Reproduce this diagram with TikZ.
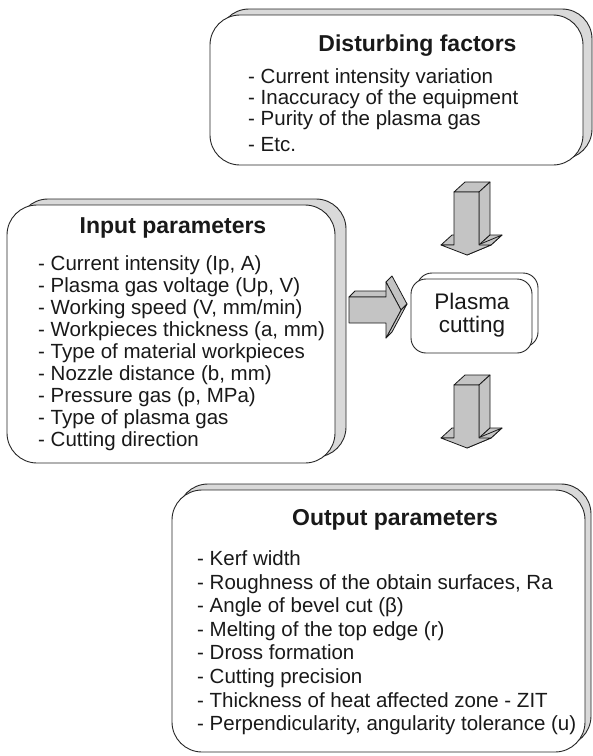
\documentclass[tikz,border=0pt]{standalone}
\usepackage{fontspec}
\setmainfont{Liberation Sans}
\usetikzlibrary{shadows}
\begin{document}
\begin{tikzpicture}[x=1pt,y=-1pt,
  edge/.style={draw=black!85, line width=0.9pt},
  bigbox/.style={edge, fill=white, rounded corners=30pt, inner sep=0pt,
    copy shadow={shadow xshift=#1, shadow yshift=6pt, fill=black!15, draw=black!85, line width=0.9pt}},
  smallbox/.style={edge, fill=white, rounded corners=15pt, inner sep=0pt,
    copy shadow={shadow xshift=6pt, shadow yshift=6pt, fill=white, draw=black!85, line width=0.9pt}},
  head/.style={font=\fontsize{23}{26}\selectfont\bfseries, inner sep=0pt, anchor=base, text=black!90},
  item/.style={font=\fontsize{20.5}{24}\selectfont, inner sep=0pt, anchor=base west, text=black!90},
  ptext/.style={font=\fontsize{22.5}{24}\selectfont, inner sep=0pt, anchor=base, text=black!90},
  arrowface/.style={fill=black!23, draw=black!90, line width=0.8pt, line join=round},
  darrow/.pic={
    \filldraw[arrowface] (0,0) -- (25,0) -- (36,-10) -- (11,-10) -- cycle;
    \filldraw[arrowface] (25,0) -- (36,-10) -- (36,43) -- (25,53) -- cycle;
    \filldraw[arrowface] (-13,53) -- (0,53) -- (11,43) -- (-2,43) -- cycle;
    \filldraw[arrowface] (25,53) -- (37,53) -- (48,43) -- (36,43) -- cycle;
    \filldraw[arrowface] (37,53) -- (48,43) -- (24,53) -- (13,63) -- cycle;
    \filldraw[arrowface] (0,0) -- (25,0) -- (25,53) -- (37,53) -- (13,63) -- (-13,53) -- (0,53) -- cycle;
  },
  rarrow/.pic={
    \filldraw[arrowface] (0,0) -- (6,-6) -- (43,-6) -- (37,0) -- cycle;
    \filldraw[arrowface] (37,-15) -- (43,-21) -- (58,7) -- (52,13) -- cycle;
    \filldraw[arrowface] (52,13) -- (58,7) -- (43,35) -- (37,41) -- cycle;
    \filldraw[arrowface] (0,0) -- (37,0) -- (37,-15) -- (52,13) -- (37,41) -- (37,26) -- (0,26) -- cycle;
  }
]
\useasboundingbox[fill=white] (0,0) rectangle (593,756);

% boxes
\node[bigbox=9pt, minimum width=373pt, minimum height=150pt] (dist) at (396.5,90) {};
\node[bigbox=11pt, minimum width=328pt, minimum height=258pt] (inp) at (171,334) {};
\node[smallbox, minimum width=121pt, minimum height=74pt] (plasma) at (471.5,316) {};
\node[bigbox=6pt, minimum width=413pt, minimum height=262pt] (out) at (378.5,621) {};

% disturbing factors
\node[head] (dh) at (417.5,51) {Disturbing factors};
\node[item] (d1) at (248,83.5) {- Current intensity variation};
\node[item] (d2) at (248,104.5) {- Inaccuracy of the equipment};
\node[item] (d3) at (248,125.5) {- Purity of the plasma gas};
\node[item] (d4) at (248,151.5) {- Etc.};

% input parameters
\node[head] (ih) at (173,233) {Input parameters};
\node[item] (i1) at (38,270.5) {- Current intensity (Ip, A)};
\node[item] (i2) at (38,292.5) {- Plasma gas voltage (Up, V)};
\node[item] (i3) at (38,314.5) {- Working speed (V, mm/min)};
\node[item] (i4) at (38,336.5) {- Workpieces thickness (a, mm)};
\node[item] (i5) at (38,358.5) {- Type of material workpieces};
\node[item] (i6) at (38,380.5) {- Nozzle distance (b, mm)};
\node[item] (i7) at (38,402.5) {- Pressure gas (p, MPa)};
\node[item] (i8) at (38,424.5) {- Type of plasma gas};
\node[item] (i9) at (38,446.5) {- Cutting direction};

% plasma cutting
\node[ptext] (p1) at (472,309) {Plasma};
\node[ptext] (p2) at (472,332) {cutting};

% output parameters
\node[head] (oh) at (395,525) {Output parameters};
\node[item] (o1) at (197,565.5) {- Kerf width};
\node[item] (o2) at (197,589.1) {- Roughness of the obtain surfaces, Ra};
\node[item] (o3) at (197,612.7) {- Angle of bevel cut (β)};
\node[item] (o4) at (197,636.3) {- Melting of the top edge (r)};
\node[item] (o5) at (197,659.9) {- Dross formation};
\node[item] (o6) at (197,683.5) {- Cutting precision};
\node[item] (o7) at (197,707.1) {- Thickness of heat affected zone - ZIT};
\node[item] (o8) at (197,730.7) {- Perpendicularity, angularity tolerance (u)};

% block arrows
\coordinate (a1) at (454,192);
\coordinate (a2) at (349,297);
\coordinate (a3) at (454,385);
\pic at (a1) {darrow};
\pic at (a2) {rarrow};
\pic at (a3) {darrow};
\end{tikzpicture}
\end{document}
